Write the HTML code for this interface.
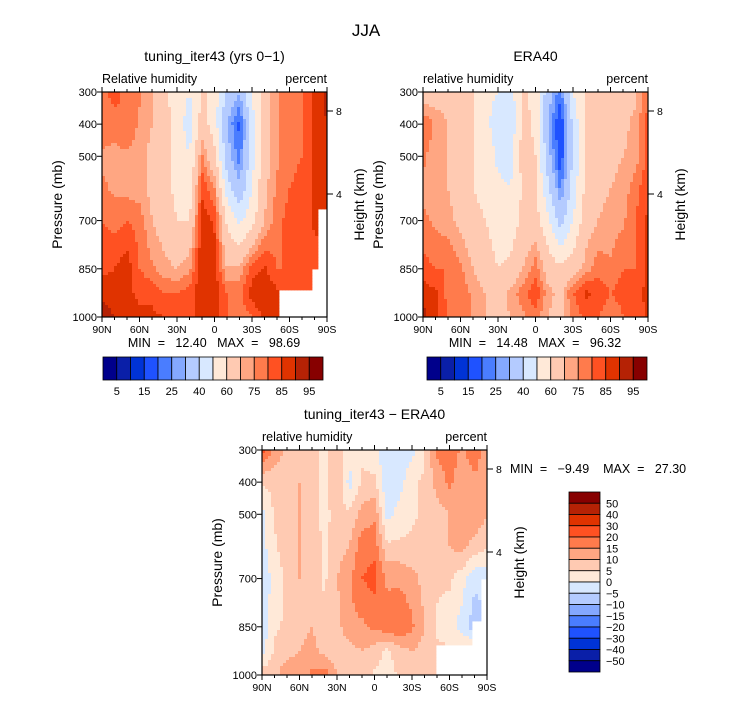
<!DOCTYPE html>
<html><head><meta charset="utf-8">
<style>
body{margin:0;background:#fff;}
svg text{font-family:"Liberation Sans",sans-serif;fill:#000;white-space:pre;}
</style></head>
<body>
<svg id="s" width="733" height="699" xmlns="http://www.w3.org/2000/svg">
<text x="366" y="36" font-size="17" text-anchor="middle">JJA</text>
</svg>
<script>
const lats = [90,80,70,60,50,40,30,20,10,0,-10,-20,-30,-40,-50,-60,-70,-80,-90];
const pres = [300,400,500,600,700,850,925,1000];
const rhLevels = [5,10,15,20,25,30,40,50,60,70,75,80,85,90,95];
const rhLabels = ["5","15","25","40","60","75","85","95"];
const diffLevels = [-50,-40,-30,-20,-15,-10,-5,0,5,10,15,20,30,40,50];
const diffLabels = ["50","40","30","20","15","10","5","0","−5","−10","−15","−20","−30","−40","−50"];
const palette = ["#00008b","#0a1fa8","#0033d6","#1f52ff","#4a7dff","#84a8ff","#b4cbff","#d8e8ff","#ffe9d8","#ffcab2","#ffa682","#ff7b4c","#ff5122","#e03300","#b52205","#870000"];
const pLabels = [300,400,500,700,850,1000];
const latTicks = [90,60,30,0,-30,-60,-90];
const latTickLabels = ["90N","60N","30N","0","30S","60S","90S"];
const model = [
[78,82,78,76,72,62,55,50,62,55,38,30,52,65,74,78,80,86,92],
[78,78,80,74,70,64,56,45,64,55,30,18,44,66,74,78,80,86,90],
[74,73,74,72,68,64,56,50,76,62,34,22,46,66,74,78,80,86,90],
[76,74,73,72,68,64,57,54,84,75,45,32,50,68,76,80,82,86,88],
[80,78,80,78,70,66,60,60,88,84,58,48,56,70,78,82,82,86,88],
[84,85,88,80,76,72,70,74,90,88,70,72,82,86,80,80,82,82,84],
[88,86,86,84,84,80,80,82,90,88,80,78,88,90,86,84,84,84,84],
[95,90,88,86,86,85,84,82,88,88,80,76,80,86,86,84,84,84,84]];
const era = [
[64,66,66,64,60,52,50,45,62,56,34,22,50,60,62,64,66,68,80],
[80,74,70,68,62,52,46,42,64,58,30,14,42,62,66,66,68,72,82],
[76,72,70,68,60,56,48,46,64,60,34,15,42,62,66,68,70,72,82],
[74,72,70,66,60,56,52,50,62,62,42,24,44,62,68,70,72,78,84],
[76,74,72,68,64,60,56,55,62,64,52,36,50,66,70,72,74,80,86],
[82,80,80,76,70,64,60,62,70,78,66,62,66,72,78,76,80,80,86],
[88,86,78,78,74,70,66,72,78,84,72,68,80,86,84,80,82,84,86],
[92,86,80,80,74,70,68,70,74,78,70,66,76,82,80,76,80,82,86]];
const diff = [
[22,14,8,8,6,4,8,2,4,2,-4,-4,-2,4,16,18,14,18,12],
[6,6,8,10,6,4,10,-2,6,6,-4,-2,4,6,12,16,12,14,12],
[-2,6,8,10,6,4,6,6,12,14,-2,2,4,6,8,10,12,14,10],
[-2,4,8,10,8,4,8,10,18,18,6,6,6,8,8,10,12,8,6],
[-4,2,6,10,10,4,10,14,20,22,14,14,12,8,6,6,2,-4,-4],
[-4,4,6,8,10,6,8,14,14,16,18,20,16,10,4,2,-2,-8,-4],
[-2,6,8,10,12,8,6,8,10,8,4,8,10,8,6,6,6,6,4],
[8,8,14,12,16,18,10,8,8,4,2,6,8,6,6,6,6,6,6]];

const NS="http://www.w3.org/2000/svg";
const svg=document.getElementById('s');
function mk(tag,attrs,parent){const e=document.createElementNS(NS,tag);for(const k in attrs)e.setAttribute(k,attrs[k]);(parent||svg).appendChild(e);return e;}
function interp(grid,lat,p){
  let i=0;while(i<pres.length-2&&p>pres[i+1])i++;
  const ty=(p-pres[i])/(pres[i+1]-pres[i]);
  const fj=(90-lat)/10;let j=Math.min(Math.floor(fj),lats.length-2);const tx=fj-j;
  const a=grid[i][j]*(1-tx)+grid[i][j+1]*tx, b=grid[i+1][j]*(1-tx)+grid[i+1][j+1]*tx;
  return a*(1-ty)+b*ty;
}
function colorFor(v,levels){let k=0;while(k<levels.length&&v>=levels[k])k++;return palette[k];}

function panel(opt){
  const g=mk('g',{});
  
  
  const x0=opt.x0,y0=opt.y0,W=225,H=225;
  const X=lat=>x0+(90-lat)/180*W, Y=p=>y0+(p-300)/700*H;
  const cg=mk('g',{},g);
  
  
  const step=3;
  for(let py=0;py<H;py+=step){for(let px=0;px<W;px+=step){
    const lat=90-(px+step/2)/W*180, p=300+(py+step/2)/H*700;
    let masked=false;for(const m of opt.mask){if(lat<m[0]&&p>m[1])masked=true;}
    if(masked)continue;
    const r=mk('rect',{x:x0+px,y:y0+py,width:step+0.4,height:step+0.4,fill:colorFor(interp(opt.grid,lat,p),opt.levels)},cg);
    
    
  }}
  const fr=mk('rect',{x:x0,y:y0,width:W,height:H,fill:'none',stroke:'#000','stroke-width':1.2},g);
  
  for(const p of [300,400,500,600,700,800,850,900,1000]){mk('line',{x1:x0-(pLabels.includes(p)?5:0),x2:x0,y1:Y(p),y2:Y(p),stroke:'#000'},g);}
  pLabels.forEach(p=>{const t=mk('text',{x:x0-5,y:Y(p)+4,'font-size':11,'text-anchor':'end'},g);t.textContent=p;
    });
  for(let l=90;l>=-90;l-=10){const maj=l%30===0;mk('line',{x1:X(l),x2:X(l),y1:y0+H,y2:y0+H+(maj?5:3),stroke:'#000'},g);mk('line',{x1:X(l),x2:X(l),y1:y0,y2:y0-(maj?5:3),stroke:'#000'},g);}
  latTicks.forEach((l,i)=>{const t=mk('text',{x:X(l),y:y0+H+16,'font-size':10.5,'text-anchor':'middle'},g);t.textContent=latTickLabels[i];
    });
  [[8,19],[4,102]].forEach(h=>{mk('line',{x1:x0+W,x2:x0+W+6,y1:y0+h[1],y2:y0+h[1],stroke:'#000'},g);
    const t=mk('text',{x:x0+W+9,y:y0+h[1]+4,'font-size':10.5},g);t.textContent=h[0];
    });
  const yt=mk('text',{x:0,y:0,'font-size':14,'text-anchor':'middle',transform:`translate(${x0-40},${y0+H/2}) rotate(-90)`},g);yt.textContent='Pressure (mb)';
  
  const ht=mk('text',{x:0,y:0,'font-size':14,'text-anchor':'middle',transform:`translate(${x0+W+37},${y0+H/2}) rotate(-90)`},g);ht.textContent='Height (km)';
  
  const ti=mk('text',{x:x0+W/2,y:y0-31,'font-size':14,'text-anchor':'middle'},g);ti.textContent=opt.title;
  
  const lv=mk('text',{x:x0,y:y0-9,'font-size':12.5},g);lv.textContent=opt.varname;
  
  const un=mk('text',{x:x0+W,y:y0-9,'font-size':12.5,'text-anchor':'end'},g);un.textContent='percent';
  
  if(opt.minmax){const mm=mk('text',{x:opt.minmax[0],y:opt.minmax[1],'font-size':12.5,'text-anchor':opt.minmax[2]},g);mm.textContent=opt.mmtext;
    }
}
function hbar(x0,name){
  const g=mk('g',{});
  const w=220/16;
  palette.forEach((c,i)=>{const r=mk('rect',{x:x0+i*w,y:357,width:w,height:23,fill:c,stroke:'#000','stroke-width':0.8},g);
    });
  rhLabels.forEach((l,i)=>{const t=mk('text',{x:x0+(2*i+1)*w,y:395,'font-size':11,'text-anchor':'middle'},g);t.textContent=l;
    });
}
panel({name:'model-panel',x0:102,y0:92,grid:model,levels:rhLevels,mask:[[-52,920],[-82,660],[-79,850]],title:'tuning_iter43 (yrs 0−1)',varname:'Relative humidity',minmax:[214,347,'middle'],mmtext:'MIN  =   12.40   MAX  =   98.69'});
panel({name:'era40-panel',x0:423,y0:92,grid:era,levels:rhLevels,mask:[],title:'ERA40',varname:'relative humidity',minmax:[535,347,'middle'],mmtext:'MIN  =   14.48   MAX  =   96.32'});
panel({name:'difference-panel',x0:262,y0:450,grid:diff,levels:diffLevels,mask:[[-50,910],[-84,700],[-78,830]],title:'tuning_iter43 − ERA40',varname:'relative humidity',minmax:[510,473,'start'],mmtext:'MIN  =   −9.49    MAX  =   27.30'});
hbar(103,'model-colorbar');hbar(427,'era40-colorbar');
(function(){
  const g=mk('g',{});
  const h=180/16;
  for(let i=0;i<16;i++){const r=mk('rect',{x:569,y:492+i*h,width:31,height:h,fill:palette[15-i],stroke:'#000','stroke-width':0.8},g);
    }
  diffLabels.forEach((l,i)=>{const t=mk('text',{x:606,y:492+(i+1)*h+4,'font-size':11},g);t.textContent=l;
    });
})();
</script>
</body></html>
